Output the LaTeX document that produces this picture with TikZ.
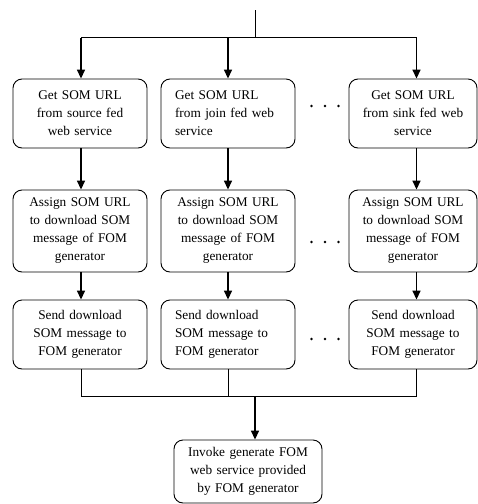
\documentclass[tikz,border=0pt]{standalone}
\usepackage{fontspec}
\setmainfont{Liberation Serif}
\usetikzlibrary{arrows.meta,calc}
\tikzset{
  stepbox/.style={draw, rounded corners=9pt, line width=0.9pt, minimum width=134pt,
    text width=106pt, inner xsep=14pt, align=center,
    font=\fontsize{13.3}{18}\selectfont},
  leftbox/.style={stepbox, align=left},
  arr/.style={line width=1.6pt, -{Triangle[length=9pt,width=8pt]}},
  wire/.style={line width=0.8pt}
}
\begin{document}
\begin{tikzpicture}[x=1pt,y=-1pt]
\useasboundingbox (0,0) rectangle (478,504);
\node[stepbox, minimum height=69pt] (g1) at (80,113.5) {Get SOM URL\\from source fed\\web service};
\node[leftbox, minimum height=69pt] (g2) at (228,113.5) {Get SOM URL\\from join fed web\\service};
\node[stepbox, minimum height=69pt, minimum width=128pt, text width=104pt, inner xsep=12pt] (g3) at (413,113.5) {Get SOM URL\\from sink fed web\\service};
\node[stepbox, minimum height=82pt] (a1) at (80,231) {Assign SOM URL\\to download SOM\\message of FOM\\generator};
\node[stepbox, minimum height=82pt] (a2) at (228,231) {Assign SOM URL\\to download SOM\\message of FOM\\generator};
\node[stepbox, minimum height=82pt, minimum width=128pt, text width=104pt, inner xsep=12pt] (a3) at (413,231) {Assign SOM URL\\to download SOM\\message of FOM\\generator};
\node[stepbox, minimum height=69pt] (s1) at (80,334.5) {Send download\\SOM message to\\FOM generator};
\node[leftbox, minimum height=69pt] (s2) at (228,334.5) {Send download\\SOM message to\\FOM generator};
\node[stepbox, minimum height=69pt, minimum width=128pt, text width=104pt, inner xsep=12pt] (s3) at (413,334.5) {Send download\\SOM message to\\FOM generator};
\node[stepbox, minimum height=63pt, minimum width=148pt, text width=128pt, inner xsep=10pt] (inv) at (248,471.5) {Invoke generate FOM\\web service provided\\by FOM generator};

\coordinate (top) at (255,10);
\coordinate (split) at (255,37.5);
\coordinate (t1) at (81,37.5);
\coordinate (t2) at (228,37.5);
\coordinate (t3) at (416.5,37.5);
\coordinate (b1) at (81,396);
\coordinate (b2) at (228,396);
\coordinate (b3) at (416.5,396);
\coordinate (join) at (255,396);

\path[draw,wire] (top) -- (split);
\path[draw,wire] (t1) -- (t3);
\path[draw,arr] (t1) -- (t1 |- g1.north);
\path[draw,arr] (t2) -- (t2 |- g2.north);
\path[draw,arr] (t3) -- (t3 |- g3.north);
\path[draw,arr] (g1.south -| t1) -- (a1.north -| t1);
\path[draw,arr] (g2.south -| t2) -- (a2.north -| t2);
\path[draw,arr] (g3.south -| t3) -- (a3.north -| t3);
\path[draw,arr] (a1.south -| t1) -- (s1.north -| t1);
\path[draw,arr] (a2.south -| t2) -- (s2.north -| t2);
\path[draw,arr] (a3.south -| t3) -- (s3.north -| t3);
\path[draw,wire] (s1.south -| b1) -- (b1) -- (b3) -- (s3.south -| b3);
\path[draw,wire] (s2.south -| b2) -- (b2);
\path[draw,arr] (join) -- (join |- inv.north);

\foreach \y in {106,242,339}
  \foreach \x in {311.5,325,338.5}
    \fill (\x,\y) circle (1.4pt);
\end{tikzpicture}
\end{document}
